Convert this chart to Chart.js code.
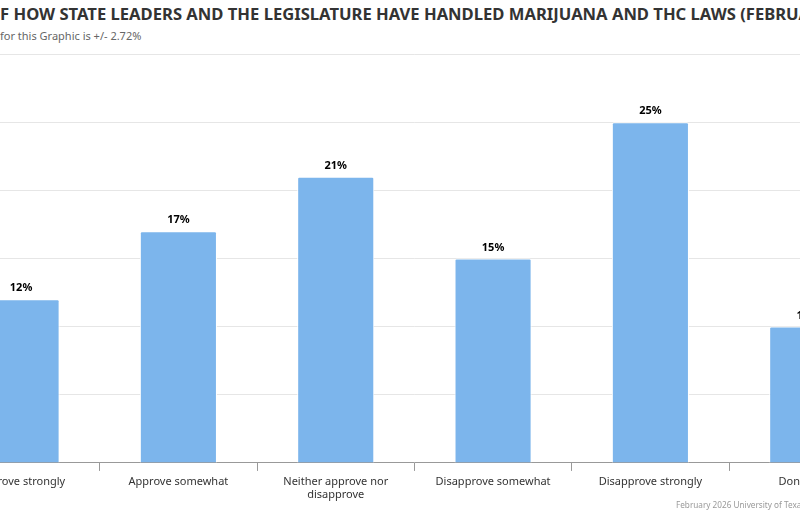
<!DOCTYPE html>
<html lang="en">
<head>
    <meta charset="UTF-8">
    <title>Marijuana and THC laws approval</title>
    <style>
        body {
            margin: 0;
            width: 800px;
            height: 512px;
            overflow: hidden;
            position: relative;
            background: #fff;
            font-family: "Noto Sans", "Open Sans", Arial, sans-serif;
        }

        #title {
            position: absolute;
            top: 2px;
            white-space: nowrap;
            font-size: 16.6px;
            font-weight: bold;
            color: #333;
        }

        #subtitle {
            position: absolute;
            top: 28px;
            white-space: nowrap;
            font-size: 11px;
            color: #666;
        }

        #credits {
            position: absolute;
            left: 676px;
            top: 499px;
            white-space: nowrap;
            font-size: 8.2px;
            color: #999;
        }

        #chart-box {
            position: absolute;
            left: -120px;
            top: 0;
        }
    </style>
</head>
<body>
    <div id="title">APPROVAL OF HOW STATE LEADERS AND THE LEGISLATURE HAVE HANDLED MARIJUANA AND THC LAWS (FEBRUARY 2026)</div>
    <div id="subtitle">Margin of Error for this Graphic is +/- 2.72%</div>
    <div id="chart-box">
        <canvas id="chart" width="1020" height="512"></canvas>
    </div>
    <div id="credits">February 2026 University of Texas/Texas Politics Project Poll</div>

    <script src="https://cdn.jsdelivr.net/npm/chart.js"></script>

    <script>
        const categories = [
            "Approve strongly",
            "Approve somewhat",
            ["Neither approve nor", "disapprove"],
            "Disapprove somewhat",
            "Disapprove strongly",
            "Don't know"
        ];
        const shares = [12, 17, 21, 15, 25, 10];
        const yTicks = [0, 5, 10, 15, 20, 25, 30];

        // the picture is a crop of a wider chart: shift title so "APPROVAL O" sits off the left edge
        function shiftLeft(id, hiddenPart) {
            const el = document.getElementById(id);
            const ctx = document.createElement('canvas').getContext('2d');
            const cs = getComputedStyle(el);
            ctx.font = cs.fontWeight + ' ' + cs.fontSize + ' ' + cs.fontFamily;
            el.style.left = (-ctx.measureText(hiddenPart).width) + 'px';
        }
        shiftLeft('title', 'APPROVAL O');
        shiftLeft('subtitle', 'Margin of Error ');

        const barLabels = {
            id: 'barLabels',
            afterDatasetsDraw(chart) {
                const ctx = chart.ctx;
                const meta = chart.getDatasetMeta(0);
                ctx.save();
                ctx.font = 'bold 11px "Noto Sans"';
                ctx.fillStyle = '#000';
                ctx.textAlign = 'center';
                ctx.textBaseline = 'middle';
                meta.data.forEach((bar, i) => {
                    ctx.fillText(shares[i] + '%', bar.x, bar.y - 11);
                });
                ctx.restore();
            }
        };

        new Chart(document.getElementById('chart'), {
            type: 'bar',
            data: {
                labels: categories,
                datasets: [{
                    data: shares,
                    backgroundColor: '#7cb5ec',
                    borderColor: '#ffffff',
                    borderWidth: 1,
                    borderRadius: 2,
                    borderSkipped: 'bottom',
                    barPercentage: 0.49,
                    categoryPercentage: 1
                }]
            },
            options: {
                responsive: false,
                animation: false,
                devicePixelRatio: 1,
                layout: {
                    padding: { left: 62.4, right: 13.6, top: 54, bottom: 6 }
                },
                plugins: {
                    legend: { display: false },
                    tooltip: { enabled: false }
                },
                scales: {
                    x: {
                        grid: {
                            offset: true,
                            drawOnChartArea: false,
                            tickLength: 8,
                            color: '#999'
                        },
                        border: { color: '#999' },
                        ticks: {
                            maxRotation: 0,
                            autoSkip: false,
                            padding: 5,
                            color: '#333',
                            font: { family: '"Noto Sans"', size: 11, lineHeight: 1.14 }
                        }
                    },
                    y: {
                        min: 0,
                        max: 30,
                        afterBuildTicks(axis) {
                            axis.ticks = yTicks.map(v => ({ value: v }));
                        },
                        ticks: { display: false },
                        grid: { color: '#e6e6e6', drawTicks: false },
                        border: { display: false }
                    }
                }
            },
            plugins: [barLabels]
        });
    </script>
</body>
</html>
